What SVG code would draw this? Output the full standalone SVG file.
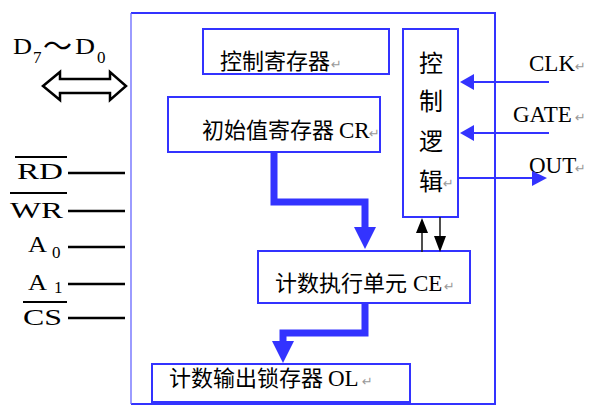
<svg xmlns="http://www.w3.org/2000/svg" width="593" height="410" viewBox="0 0 593 410">
<style>
  .box{fill:#fff;stroke:#3333ff;stroke-width:2}
  .cjk{font-family:"Noto Sans CJK SC","Noto Sans CJK JP",sans-serif;font-size:22px;fill:#000}
  .cjkv{font-family:"Noto Sans CJK SC","Noto Sans CJK JP",sans-serif;font-size:24px;fill:#000;text-anchor:middle}
  .lat{font-family:"Liberation Serif",serif;font-size:23px;fill:#000}
  .pin{font-family:"Liberation Serif",serif;font-size:24px;fill:#000}
  .sub{font-family:"Liberation Serif",serif;font-size:17px;fill:#000}
  .sig{font-family:"Liberation Serif",serif;font-size:23px;fill:#000}
  .pm{font-family:"DejaVu Sans",sans-serif;font-size:13px;fill:#999}
  .pinline{stroke:#000;stroke-width:2.5}
  .ovl{stroke:#000;stroke-width:2}
  .bus{fill:none;stroke:#3333ff;stroke-width:7}
  .busHead{fill:#3333ff}
  .sl{stroke:#3333ff;stroke-width:2}
  .bl{stroke:#222;stroke-width:1.6}
</style>

<g id="chip">
  <path d="M131 13 H495 V404 H131" fill="none" stroke="#3333ff" stroke-width="2"/>
  <line x1="131" y1="13" x2="131" y2="404" stroke="#6666ff" stroke-width="1.3"/>
</g>

<g id="control-register">
  <rect class="box" x="203" y="29" width="186" height="45"/>
  <text class="cjk" x="220" y="69">控制寄存器</text>
  <text class="pm" x="331" y="69">↵</text>
</g>

<g id="cr-register">
  <rect class="box" x="168" y="97" width="212" height="55"/>
  <text class="cjk" x="202" y="138">初始值寄存器</text>
  <text class="lat" x="339" y="138">CR</text>
  <text class="pm" x="369" y="138">↵</text>
</g>

<g id="ce-unit">
  <rect class="box" x="258" y="251" width="212" height="52"/>
  <text class="cjk" x="275" y="291">计数执行单元</text>
  <text class="lat" x="413" y="291">CE</text>
  <text class="pm" x="444" y="291">↵</text>
</g>

<g id="ol-latch">
  <rect class="box" x="152" y="364" width="258" height="38"/>
  <text class="cjk" x="169" y="386">计数输出锁存器</text>
  <text class="lat" x="328" y="386">OL</text>
  <text class="pm" x="362" y="386">↵</text>
</g>

<g id="control-logic">
  <rect class="box" x="403" y="29" width="55" height="188"/>
  <text class="cjkv" x="431" y="72">控</text>
  <text class="cjkv" x="431" y="110">制</text>
  <text class="cjkv" x="431" y="150">逻</text>
  <text class="cjkv" x="431" y="190">辑</text>
  <text class="pm" x="443" y="188">↵</text>
</g>

<g id="data-bus">
  <text class="pin" x="13" y="54" textLength="19" lengthAdjust="spacingAndGlyphs">D</text>
  <text class="sub" x="33" y="63">7</text>
  <text class="cjk" x="43" y="57" style="font-size:29px">～</text>
  <text class="pin" x="75" y="54" textLength="20" lengthAdjust="spacingAndGlyphs">D</text>
  <text class="sub" x="97" y="63">0</text>
  <polygon points="43,86 60,72 60,79 110,79 110,72 126,86 110,100 110,93 60,93 60,100" fill="#fff" stroke="#000" stroke-width="2.5" stroke-linejoin="miter"/>
</g>

<g id="pin-rd">
  <text class="pin" x="17" y="179" textLength="46" lengthAdjust="spacingAndGlyphs">RD</text>
  <line class="ovl" x1="15" y1="157" x2="67" y2="157"/>
  <line class="pinline" x1="68" y1="173" x2="125" y2="173"/>
</g>
<g id="pin-wr">
  <text class="pin" x="10" y="218" textLength="53" lengthAdjust="spacingAndGlyphs">WR</text>
  <line class="ovl" x1="10" y1="193" x2="67" y2="193"/>
  <line class="pinline" x1="68" y1="211" x2="125" y2="211"/>
</g>
<g id="pin-a0">
  <text class="pin" x="28" y="252" textLength="19" lengthAdjust="spacingAndGlyphs">A</text>
  <text class="sub" x="52" y="258">0</text>
  <line class="pinline" x1="68" y1="247" x2="125" y2="247"/>
</g>
<g id="pin-a1">
  <text class="pin" x="28" y="290" textLength="19" lengthAdjust="spacingAndGlyphs">A</text>
  <text class="sub" x="54" y="293">1</text>
  <line class="pinline" x1="68" y1="284" x2="125" y2="284"/>
</g>
<g id="pin-cs">
  <text class="pin" x="23" y="325" textLength="39" lengthAdjust="spacingAndGlyphs">CS</text>
  <line class="ovl" x1="23" y1="302" x2="67" y2="302"/>
  <line class="pinline" x1="68" y1="318" x2="125" y2="318"/>
</g>

<g id="pin-clk">
  <text class="sig" x="529" y="71">CLK</text>
  <text class="pm" x="575" y="71">↵</text>
</g>
<g id="pin-gate">
  <text class="sig" x="513" y="122">GATE</text>
  <text class="pm" x="575" y="122">↵</text>
</g>
<g id="pin-out">
  <text class="sig" x="529" y="173">OUT</text>
  <text class="pm" x="575" y="173">↵</text>
</g>

<g id="connectors">
  <path class="bus" d="M274 152 V202 H365 V229"/>
  <polygon class="busHead" points="354,227 376,227 365,249"/>
  <path class="bus" d="M365 303 V333 H283 V343"/>
  <polygon class="busHead" points="272,341 294,341 283,363"/>
  <line class="sl" x1="549" y1="82" x2="471" y2="82"/>
  <polygon class="busHead" points="460,82 474,74 474,90"/>
  <line class="sl" x1="549" y1="133" x2="471" y2="133"/>
  <polygon class="busHead" points="460,133 474,125 474,141"/>
  <line class="sl" x1="457" y1="178" x2="535" y2="178"/>
  <polygon class="busHead" points="547,178 532,171 532,186"/>
  <line class="bl" x1="422" y1="252" x2="422" y2="230"/>
  <polygon points="422,218 416,233 428,233" fill="#000"/>
  <line class="bl" x1="440" y1="217" x2="440" y2="238"/>
  <polygon points="440,252 434,236 446,236" fill="#000"/>
</g>
</svg>
